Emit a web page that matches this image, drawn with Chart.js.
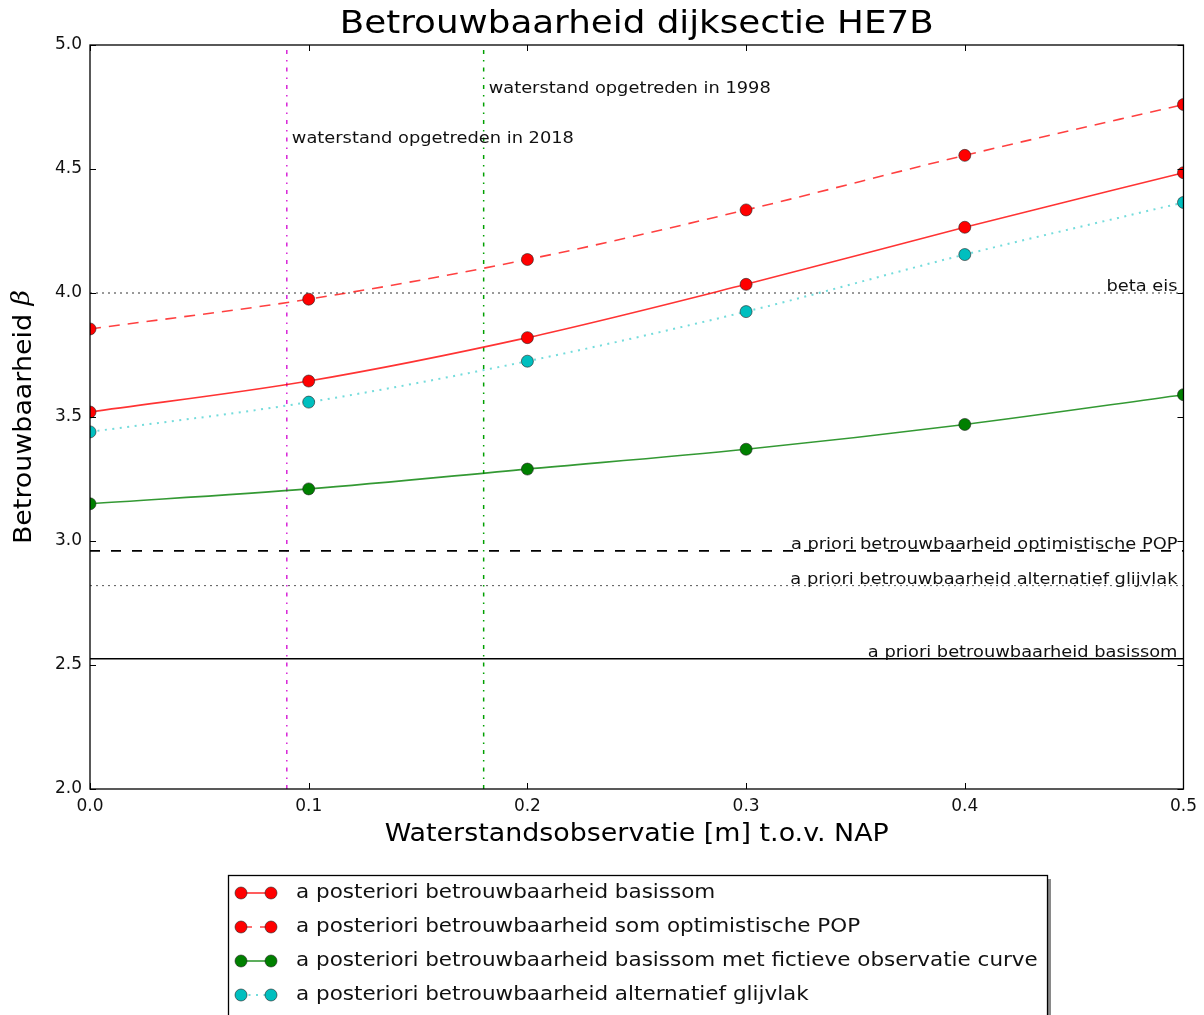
<!DOCTYPE html>
<html>
<head>
<meta charset="utf-8">
<script src="https://cdn.jsdelivr.net/npm/chart.js@4"></script>
<style>
  body { margin: 0; background: #fff; }
  #wrap { width: 1204px; height: 1015px; }
</style>
</head>
<body>
<div id="wrap"><canvas id="myChart" width="1204" height="1015"></canvas></div>
<script>
/* data */
var xValues = [0.0, 0.1, 0.2, 0.3, 0.4, 0.5];
var basissom = [3.52, 3.645, 3.82, 4.035, 4.265, 4.485];
var optimistischPOP = [3.855, 3.975, 4.135, 4.335, 4.555, 4.76];
var fictieveCurve = [3.15, 3.21, 3.29, 3.37, 3.47, 3.59];
var glijvlak = [3.44, 3.56, 3.725, 3.925, 4.155, 4.365];

var xTicks = [0.0, 0.1, 0.2, 0.3, 0.4, 0.5];
var yTicks = [2.0, 2.5, 3.0, 3.5, 4.0, 4.5, 5.0];

var betaEis = 4.0;
var aprioriPOP = 2.96;
var aprioriGlijvlak = 2.82;
var aprioriBasissom = 2.525;

var obs2018 = 0.09;
var obs1998 = 0.18;

var seriesLabels = [
  'a posteriori betrouwbaarheid basissom',
  'a posteriori betrouwbaarheid som optimistische POP',
  'a posteriori betrouwbaarheid basissom met fictieve observatie curve',
  'a posteriori betrouwbaarheid alternatief glijvlak'
];

var FONT = '"DejaVu Sans", sans-serif';

function pts(ys) {
  return xValues.map(function(x, i) { return {x: x, y: ys[i]}; });
}

function hline(y) {
  return [{x: xTicks[0], y: y}, {x: xTicks[xTicks.length - 1], y: y}];
}

function vline(x) {
  return [{x: x, y: yTicks[0]}, {x: x, y: yTicks[yTicks.length - 1]}];
}

/* text a bit wider than the font, like the reference render */
function wideText(ctx, text, x, y, sx) {
  ctx.save();
  ctx.translate(x, y);
  ctx.scale(sx, 1);
  ctx.fillText(text, 0, 0);
  ctx.restore();
}

/* series styles, also used by the legend */
var styles = [
  {line: 'rgba(255,0,0,0.8)', marker: '#ff0000', dash: [], width: 1.6},
  {line: 'rgba(255,0,0,0.75)', marker: '#ff0000', dash: [11, 8], width: 1.6},
  {line: 'rgba(0,128,0,0.8)', marker: '#008000', dash: [], width: 1.6},
  {line: 'rgba(0,191,191,0.55)', marker: '#00bfbf', dash: [2, 5.5], width: 2}
];
var seriesData = [basissom, optimistischPOP, fictieveCurve, glijvlak];

var datasets = seriesData.map(function(ys, i) {
  return {
    label: seriesLabels[i],
    data: pts(ys),
    borderColor: styles[i].line,
    borderWidth: styles[i].width,
    borderDash: styles[i].dash,
    backgroundColor: styles[i].marker,
    pointBackgroundColor: styles[i].marker,
    pointBorderColor: '#222',
    pointBorderWidth: 0.6,
    pointRadius: 6,
    cubicInterpolationMode: 'monotone',
    clip: 0,
    order: 1
  };
});

// reference lines
datasets.push({label: 'beta eis', data: hline(betaEis), borderColor: '#333', borderWidth: 1, borderDash: [2, 4], pointRadius: 0, clip: 0, order: 2});
datasets.push({label: 'pop', data: hline(aprioriPOP), borderColor: '#000', borderWidth: 1.6, borderDash: [10, 11], pointRadius: 0, clip: 0, order: 2});
datasets.push({label: 'glijvlak', data: hline(aprioriGlijvlak), borderColor: '#555', borderWidth: 1, borderDash: [2, 4], pointRadius: 0, clip: 0, order: 2});
datasets.push({label: 'basissom', data: hline(aprioriBasissom), borderColor: '#000', borderWidth: 1.4, pointRadius: 0, clip: 0, order: 2});
datasets.push({label: '2018', data: vline(obs2018), borderColor: '#d000d0', borderWidth: 1.3, borderDash: [4, 6, 1.5, 6], pointRadius: 0, clip: 0, order: 2});
datasets.push({label: '1998', data: vline(obs1998), borderColor: '#00a000', borderWidth: 1.5, borderDash: [4, 6, 1.5, 6], pointRadius: 0, clip: 0, order: 2});

/* frame, inward ticks, texts and legend */
var decorations = {
  id: 'decorations',
  afterDraw: function(chart) {
    var ctx = chart.ctx;
    var a = chart.chartArea;
    var xs = chart.scales.x;
    var ys = chart.scales.y;
    ctx.save();

    // frame
    ctx.strokeStyle = '#000';
    ctx.lineWidth = 1.3;
    ctx.setLineDash([]);
    ctx.strokeRect(a.left, a.top, a.right - a.left, a.bottom - a.top);

    // inward ticks on all four sides
    ctx.lineWidth = 1;
    ctx.beginPath();
    xTicks.forEach(function(t) {
      var px = Math.round(xs.getPixelForValue(t)) + 0.5;
      ctx.moveTo(px, a.bottom); ctx.lineTo(px, a.bottom - 6);
      ctx.moveTo(px, a.top); ctx.lineTo(px, a.top + 6);
    });
    yTicks.forEach(function(t) {
      var py = Math.round(ys.getPixelForValue(t)) + 0.5;
      ctx.moveTo(a.left, py); ctx.lineTo(a.left + 6, py);
      ctx.moveTo(a.right, py); ctx.lineTo(a.right - 6, py);
    });
    ctx.stroke();

    // title
    ctx.fillStyle = '#000';
    ctx.textAlign = 'center';
    ctx.textBaseline = 'middle';
    ctx.font = '32px ' + FONT;
    wideText(ctx, 'Betrouwbaarheid dijksectie HE7B', (a.left + a.right) / 2, 25, 1.115);

    // x axis title
    ctx.font = '24px ' + FONT;
    wideText(ctx, 'Waterstandsobservatie [m] t.o.v. NAP', (a.left + a.right) / 2, 835, 1.12);

    // y axis title with italic beta
    ctx.save();
    ctx.translate(25, (a.top + a.bottom) / 2);
    ctx.rotate(-Math.PI / 2);
    ctx.scale(1.12, 1);
    ctx.font = '24px ' + FONT;
    var part1 = 'Betrouwbaarheid ';
    var w1 = ctx.measureText(part1).width;
    ctx.font = 'italic 24px "DejaVu Serif", serif';
    var w2 = ctx.measureText('\u03b2').width;
    var start = -(w1 + w2) / 2;
    ctx.textAlign = 'left';
    ctx.font = '24px ' + FONT;
    ctx.fillText(part1, start, 0);
    ctx.font = 'italic 24px "DejaVu Serif", serif';
    ctx.fillText('\u03b2', start + w1, -2);
    ctx.restore();

    // observation labels
    ctx.font = '16.7px ' + FONT;
    ctx.fillStyle = '#111';
    ctx.textAlign = 'left';
    ctx.textBaseline = 'middle';
    wideText(ctx, 'waterstand opgetreden in 2018', xs.getPixelForValue(obs2018) + 5, 139, 1.068);
    wideText(ctx, 'waterstand opgetreden in 1998', xs.getPixelForValue(obs1998) + 5, 89, 1.068);

    // reference line labels
    ctx.textAlign = 'right';
    ctx.textBaseline = 'alphabetic';
    var rx = a.right - 6;
    wideText(ctx, 'beta eis', rx, ys.getPixelForValue(betaEis) - 2, 1.068);
    wideText(ctx, 'a priori betrouwbaarheid optimistische POP', rx, ys.getPixelForValue(aprioriPOP) - 2, 1.068);
    wideText(ctx, 'a priori betrouwbaarheid alternatief glijvlak', rx, ys.getPixelForValue(aprioriGlijvlak) - 2, 1.068);
    wideText(ctx, 'a priori betrouwbaarheid basissom', rx, ys.getPixelForValue(aprioriBasissom) - 2, 1.068);

    // legend box with shadow
    var lx = 228, ly = 875, lw = 819, lh = 160;
    ctx.fillStyle = '#8a8a8a';
    ctx.fillRect(lx + 4, ly + 4, lw, lh);
    ctx.fillStyle = '#fff';
    ctx.fillRect(lx, ly, lw, lh);
    ctx.strokeStyle = '#000';
    ctx.lineWidth = 1.3;
    ctx.strokeRect(lx + 0.5, ly + 0.5, lw, lh);

    ctx.font = '19.4px ' + FONT;
    ctx.textAlign = 'left';
    ctx.textBaseline = 'middle';
    seriesLabels.forEach(function(label, i) {
      var cy = 893 + i * 34;
      var s = styles[i];
      ctx.strokeStyle = s.line;
      ctx.lineWidth = s.width;
      ctx.setLineDash(s.dash);
      ctx.beginPath();
      ctx.moveTo(241, cy); ctx.lineTo(271, cy);
      ctx.stroke();
      ctx.setLineDash([]);
      [241, 271].forEach(function(mx) {
        ctx.beginPath();
        ctx.arc(mx, cy, 6, 0, Math.PI * 2);
        ctx.fillStyle = s.marker;
        ctx.fill();
        ctx.strokeStyle = '#222';
        ctx.lineWidth = 0.6;
        ctx.stroke();
      });
      ctx.fillStyle = '#111';
      wideText(ctx, label, 296, cy, 1.108);
    });

    ctx.restore();
  }
};

var config = {
  type: 'line',
  data: { datasets: datasets },
  options: {
    responsive: false,
    animation: false,
    layout: { padding: { top: 45, right: 20, left: 0, bottom: 0 } },
    plugins: {
      legend: { display: false },
      title: { display: false },
      tooltip: { enabled: false }
    },
    scales: {
      x: {
        type: 'linear',
        min: xTicks[0],
        max: xTicks[xTicks.length - 1],
        afterFit: function(scale) { scale.height = 226; },
        afterBuildTicks: function(scale) {
          scale.ticks = xTicks.map(function(v) { return {value: v}; });
        },
        grid: { display: false, drawTicks: false },
        border: { display: false },
        ticks: {
          padding: 7,
          color: '#111',
          font: { family: 'DejaVu Sans', size: 17 },
          maxRotation: 0,
          callback: function(v) { return Number(v).toFixed(1); }
        }
      },
      y: {
        type: 'linear',
        min: yTicks[0],
        max: yTicks[yTicks.length - 1],
        afterFit: function(scale) { scale.width = 90; },
        afterBuildTicks: function(scale) {
          scale.ticks = yTicks.map(function(v) { return {value: v}; });
        },
        grid: { display: false, drawTicks: false },
        border: { display: false },
        ticks: {
          padding: 8,
          color: '#111',
          font: { family: 'DejaVu Sans', size: 17 },
          callback: function(v) { return Number(v).toFixed(1); }
        }
      }
    }
  },
  plugins: [decorations]
};

window.onload = function() {
  var ctx = document.getElementById('myChart').getContext('2d');
  window.betaChart = new Chart(ctx, config);
};
</script>
</body>
</html>
